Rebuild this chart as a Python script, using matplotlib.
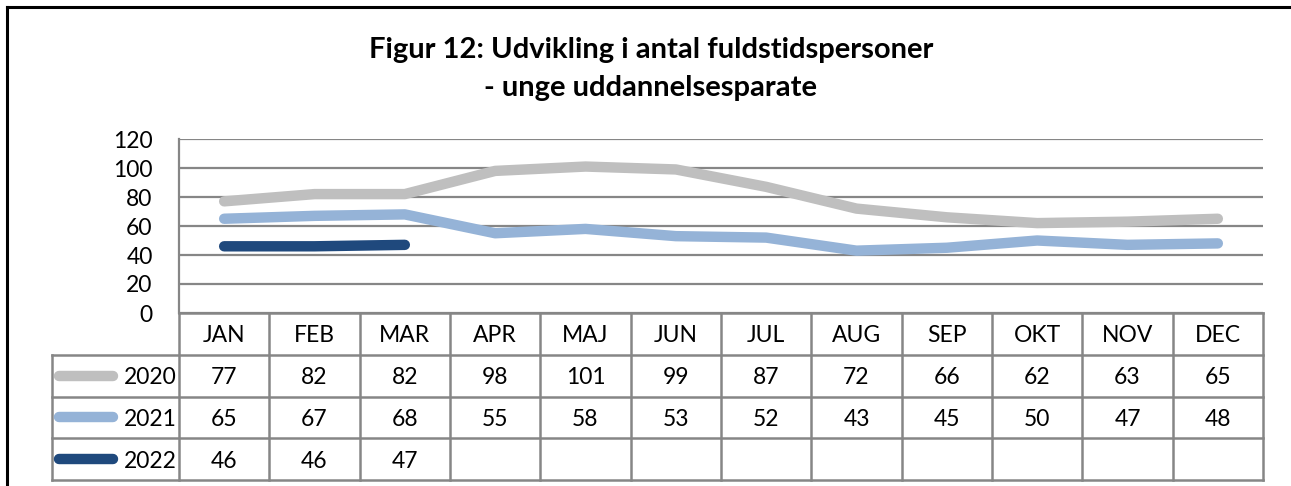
import matplotlib
matplotlib.use('Agg')
import matplotlib.pyplot as plt
from matplotlib.lines import Line2D
import numpy as np

plt.rcParams['font.family'] = ['Lato', 'DejaVu Sans']

months = ['JAN', 'FEB', 'MAR', 'APR', 'MAJ', 'JUN', 'JUL', 'AUG', 'SEP', 'OKT', 'NOV', 'DEC']
years = ['2020', '2021', '2022']
v2020 = [77, 82, 82, 98, 101, 99, 87, 72, 66, 62, 63, 65]
v2021 = [65, 67, 68, 55, 58, 53, 52, 43, 45, 50, 47, 48]
v2022 = [46, 46, 47]
colors = ['#BFBFBF', '#95B3D7', '#1F497D']
series = [v2020, v2021, v2022]

W, H = 1291, 486
fig = plt.figure(figsize=(W / 100, H / 100), dpi=100)
fs = 16.5

# outer frame (top and left edges visible)
fig.add_artist(Line2D([7 / W, 7 / W], [0, 1 - 7 / H], color='black', lw=2.2, transform=fig.transFigure))
fig.add_artist(Line2D([7 / W, 1], [1 - 7 / H, 1 - 7 / H], color='black', lw=2.2, transform=fig.transFigure))

fig.text(651 / W, 1 - 50 / H, 'Figur 12: Udvikling i antal fuldstidspersoner',
         ha='center', va='center', fontsize=21, fontweight='bold')
fig.text(651 / W, 1 - 88 / H, '- unge uddannelsesparate',
         ha='center', va='center', fontsize=21, fontweight='bold')

grid_c = '#868686'
x0, x1 = 179, 1263
ytop, ybot = 139, 313
ax = fig.add_axes([x0 / W, 1 - ybot / H, (x1 - x0) / W, (ybot - ytop) / H])
x = np.arange(len(months))
for vals, c in zip(series, colors):
    ax.plot(x[:len(vals)], vals, color=c, lw=7.5, solid_capstyle='round', solid_joinstyle='round')
ax.set_xlim(-0.5, 11.5)
ax.set_ylim(0, 120)
ax.set_yticks(range(0, 121, 20))
ax.yaxis.grid(True, color=grid_c, lw=1.6)
ax.set_axisbelow(True)
ax.set_xticks([])
ax.tick_params(axis='y', length=0, pad=19, labelsize=fs)
for s in ['top', 'right', 'bottom']:
    ax.spines[s].set_visible(False)
ax.spines['left'].set_color(grid_c)
ax.spines['left'].set_linewidth(1.6)

# data table below the plot
tl, tb = 52, 480
leg_w = (x0 - tl) / ((x1 - x0) / 12)
tax = fig.add_axes([tl / W, 1 - tb / H, (x1 - tl) / W, (tb - ybot) / H])
tax.set_xlim(-0.5 - leg_w, 11.5)
tax.set_ylim(0, 4)
tax.axis('off')
lk = dict(color=grid_c, lw=1.8, clip_on=False)
# horizontal lines
tax.plot([-0.5, 11.5], [4, 4], **lk)
for yy in [0, 1, 2, 3]:
    tax.plot([-0.5 - leg_w, 11.5], [yy, yy], **lk)
# vertical lines
for xx in np.arange(-0.5, 12, 1):
    tax.plot([xx, xx], [0, 4], **lk)
tax.plot([-0.5 - leg_w, -0.5 - leg_w], [0, 3], **lk)

for i, m in enumerate(months):
    tax.text(i, 3.45, m, ha='center', va='center', fontsize=fs)
for r, (yr, vals, c) in enumerate(zip(years, series, colors)):
    yc = 2.45 - r
    tax.plot([-0.5 - leg_w + 0.08, -0.5 - leg_w + 0.68], [yc + 0.05, yc + 0.05], color=c, lw=7.5,
             solid_capstyle='round', clip_on=False)
    tax.text(-0.53, yc, yr, ha='right', va='center', fontsize=fs)
    for i, v in enumerate(vals):
        tax.text(i, yc, str(v), ha='center', va='center', fontsize=fs)

fig.savefig('out.png', dpi=100)
